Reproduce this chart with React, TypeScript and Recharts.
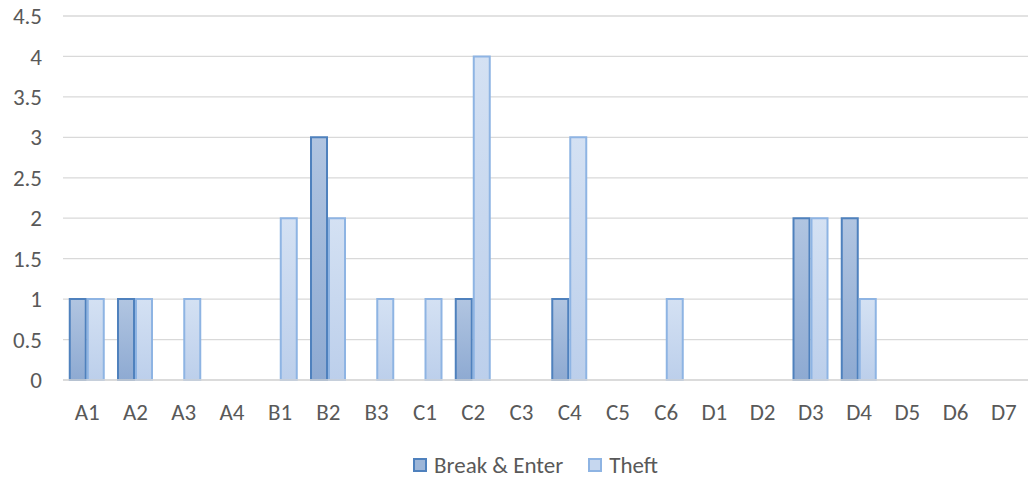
import React from "react";
import { BarChart, Bar, XAxis, YAxis, CartesianGrid, Legend } from "recharts";

const districts = ["A1", "A2", "A3", "A4", "B1", "B2", "B3", "C1", "C2", "C3", "C4", "C5", "C6", "D1", "D2", "D3", "D4", "D5", "D6", "D7"];
const breakEnter = [1, 1, 0, 0, 0, 3, 0, 0, 1, 0, 1, 0, 0, 0, 0, 2, 2, 0, 0, 0];
const theft = [1, 1, 1, 0, 2, 2, 1, 1, 4, 0, 3, 0, 1, 0, 0, 2, 1, 0, 0, 0];
const yTicks = [0, 0.5, 1, 1.5, 2, 2.5, 3, 3.5, 4, 4.5];

const data = districts.map((d, i) => ({ name: d, breakEnter: breakEnter[i], theft: theft[i] }));

const font = "Carlito, Calibri, 'Open Sans', sans-serif";

const LegendContent = () => (
  <div
    style={{
      display: "flex",
      justifyContent: "center",
      gap: 25,
      paddingLeft: 43,
      fontFamily: font,
      fontSize: 23,
      lineHeight: "28px",
      color: "#595959",
    }}
  >
    <span style={{ display: "flex", alignItems: "center", gap: 7 }}>
      <span style={{ width: 10, height: 10, background: "#9db6d8", border: "2px solid #4f81bd" }} />
      Break &amp; Enter
    </span>
    <span style={{ display: "flex", alignItems: "center", gap: 7 }}>
      <span style={{ width: 10, height: 10, background: "#c6d7ef", border: "2px solid #8eb4e3" }} />
      Theft
    </span>
  </div>
);

export default function App() {
  return (
    <div style={{ position: "absolute", left: 0, top: 0, width: 1029, height: 479, background: "#fff" }}>
      <BarChart
        width={1029}
        height={479}
        data={data}
        margin={{ top: 16, right: 1, left: 0, bottom: 0 }}
        barCategoryGap="14%"
        barGap={2}
      >
        <defs>
          <linearGradient id="gBE" x1="0" y1="0" x2="0" y2="1">
            <stop offset="0%" stopColor="#b1c5e1" />
            <stop offset="100%" stopColor="#8eaad2" />
          </linearGradient>
          <linearGradient id="gTh" x1="0" y1="0" x2="0" y2="1">
            <stop offset="0%" stopColor="#d4e1f3" />
            <stop offset="100%" stopColor="#bccfeb" />
          </linearGradient>
        </defs>
        <CartesianGrid vertical={false} stroke="#d9d9d9" strokeWidth={1.3} />
        <XAxis
          dataKey="name"
          axisLine={{ stroke: "#d9d9d9", strokeWidth: 1.3 }}
          tickLine={false}
          tick={{ fill: "#595959", fontSize: 23, fontFamily: font }}
          tickMargin={18}
          height={71}
          interval={0}
        />
        <YAxis
          domain={[0, 4.5]}
          ticks={yTicks}
          width={63}
          axisLine={false}
          tickLine={false}
          tickSize={0}
          tickMargin={21}
          tick={{ fill: "#595959", fontSize: 23, fontFamily: font }}
        />
        <Legend verticalAlign="bottom" content={<LegendContent />} wrapperStyle={{ height: 28 }} />
        <Bar dataKey="breakEnter" name="Break & Enter" fill="url(#gBE)" stroke="#4f81bd" strokeWidth={2} isAnimationActive={false} />
        <Bar dataKey="theft" name="Theft" fill="url(#gTh)" stroke="#8eb4e3" strokeWidth={2} isAnimationActive={false} />
      </BarChart>
    </div>
  );
}
